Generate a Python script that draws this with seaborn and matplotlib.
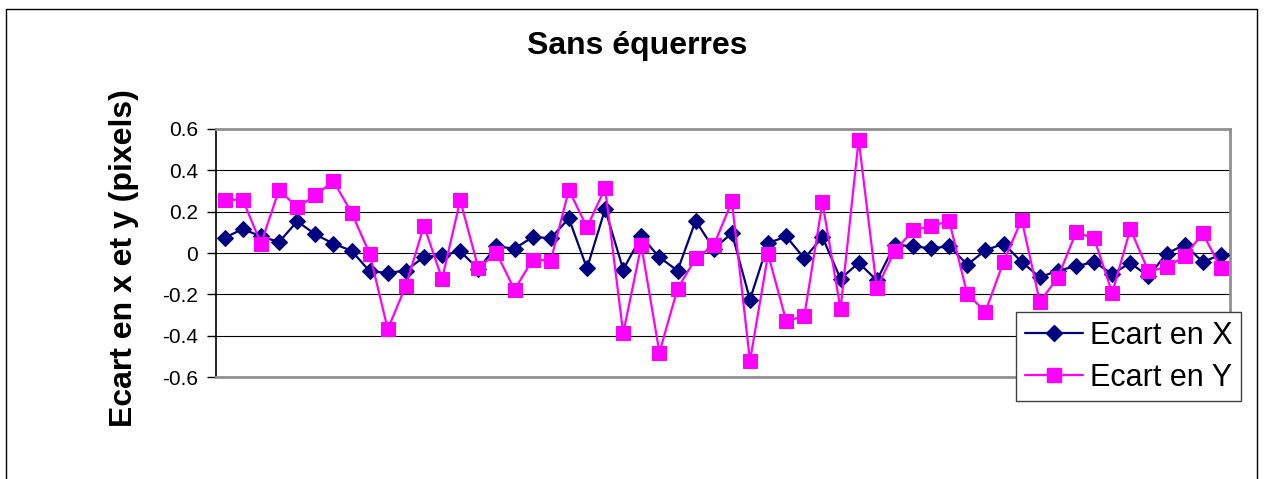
import matplotlib
matplotlib.use("Agg")
import matplotlib.pyplot as plt
from matplotlib.ticker import FuncFormatter, MultipleLocator
from matplotlib.lines import Line2D
import seaborn as sns
import numpy as np
import pandas as pd

ecart_x = [0.074, 0.116, 0.080, 0.053, 0.153, 0.090, 0.045, 0.011, -0.088, -0.096,
           -0.085, -0.019, -0.011, 0.008, -0.077, 0.032, 0.021, 0.077, 0.072, 0.167,
           -0.074, 0.212, -0.080, 0.080, -0.021, -0.085, 0.156, 0.020, 0.096, -0.225,
           0.048, 0.080, -0.026, 0.077, -0.125, -0.047, -0.132, 0.040, 0.032, 0.023,
           0.032, -0.056, 0.013, 0.045, -0.043, -0.117, -0.085, -0.064, -0.043, -0.101,
           -0.048, -0.113, -0.003, 0.040, -0.043, -0.008]
ecart_y = [0.257, 0.257, 0.045, 0.305, 0.220, 0.278, 0.347, 0.195, -0.003, -0.368,
           -0.158, 0.132, -0.125, 0.254, -0.072, 0.000, -0.177, -0.032, -0.037, 0.304,
           0.124, 0.313, -0.387, 0.037, -0.481, -0.172, -0.026, 0.037, 0.249, -0.521,
           -0.006, -0.328, -0.305, 0.244, -0.270, 0.547, -0.169, 0.011, 0.109, 0.130,
           0.154, -0.199, -0.283, -0.042, 0.161, -0.235, -0.119, 0.100, 0.071, -0.193,
           0.116, -0.088, -0.069, -0.016, 0.095, -0.074]
series_names = ["Ecart en X", "Ecart en Y"]
colors = ["#000080", "#FF00FF"]

n = len(ecart_x)
idx = np.arange(n)
df_x = pd.DataFrame({"i": idx, "v": ecart_x})
df_y = pd.DataFrame({"i": idx, "v": ecart_y})

sns.set_style("white")
plt.rcParams["font.family"] = ["Liberation Sans", "DejaVu Sans"]
plt.rcParams["text.color"] = "black"
plt.rcParams["ytick.labelcolor"] = "black"

fig = plt.figure(figsize=(12.65, 4.79), dpi=100)
ax = fig.add_axes([0.1705, 0.2123, 0.9723 - 0.1705, 0.7313 - 0.2123])

# X series first, Y drawn on top like in the original
sns.lineplot(data=df_x, x="i", y="v", ax=ax, color=colors[0], lw=1.6,
             marker="D", markersize=8, markeredgecolor=colors[0], zorder=3)
sns.lineplot(data=df_y, x="i", y="v", ax=ax, color=colors[1], lw=1.6,
             marker="s", markersize=10, markeredgecolor=colors[1], zorder=4)

ax.set_xlim(-0.5, n - 0.5)
ax.set_ylim(-0.6, 0.6)
ax.yaxis.set_major_locator(MultipleLocator(0.2))
ax.yaxis.set_major_formatter(FuncFormatter(lambda v, p: "0" if abs(v) < 1e-9 else f"{v:.1f}"))
ax.set_xticks([])
ax.set_xlabel("")
ax.set_ylabel("")
ax.grid(axis="y", color="#000000", lw=0.8)
ax.tick_params(axis="y", direction="out", length=6.5, width=1, color="black",
               labelsize=15, labelcolor="black", pad=6, left=True)

for side in ["top", "right", "bottom"]:
    ax.spines[side].set_color("#909090")
    ax.spines[side].set_linewidth(2)
ax.spines["left"].set_color("#000000")
ax.spines["left"].set_linewidth(1.2)

fig.text(124 / 1265, 1 - 258 / 479, "Ecart en x et y (pixels)", rotation=90,
         ha="center", va="center", fontsize=23, fontweight="bold", color="black")
fig.text(637.5 / 1265, 1 - 46 / 479, "Sans équerres", ha="center", va="center",
         fontsize=23, fontweight="bold", color="black")

handles = [Line2D([], [], color=colors[0], lw=1.6, marker="D", markersize=8),
           Line2D([], [], color=colors[1], lw=1.6, marker="s", markersize=10)]
leg = ax.legend(handles, series_names, loc="upper left",
                bbox_to_anchor=(1016 / 1265, 1 - 312 / 479),
                bbox_transform=fig.transFigure,
                fontsize=22, frameon=True, fancybox=False, framealpha=1,
                edgecolor="#404040", handlelength=1.9, handletextpad=0.25,
                borderpad=0.28, labelspacing=0.4, borderaxespad=0)
leg.get_frame().set_linewidth(1)
for t in leg.get_texts():
    t.set_color("black")

# outer chart frame
fig.add_artist(Line2D([6 / 1265, 6 / 1265], [0, 1 - 9 / 479], color="black", lw=1,
                      transform=fig.transFigure))
fig.add_artist(Line2D([6 / 1265, 1257 / 1265], [1 - 9 / 479, 1 - 9 / 479], color="black",
                      lw=1, transform=fig.transFigure))
fig.add_artist(Line2D([1257 / 1265, 1257 / 1265], [0, 1 - 9 / 479], color="black", lw=1,
                      transform=fig.transFigure))

fig.savefig("out.png", dpi=100)
